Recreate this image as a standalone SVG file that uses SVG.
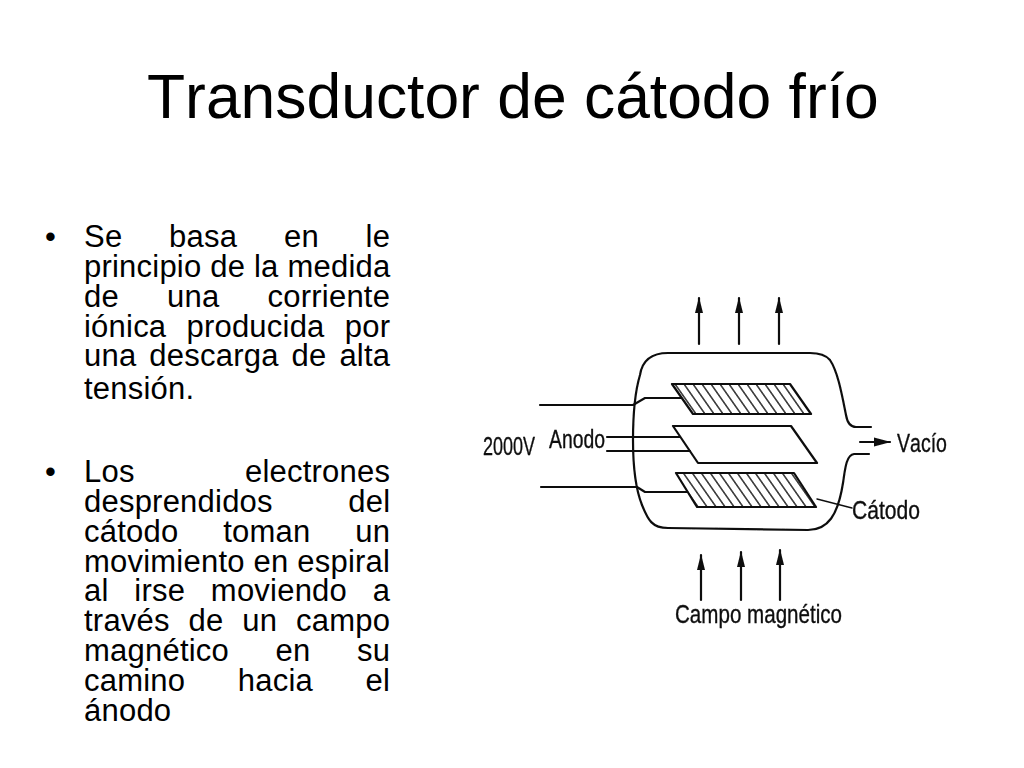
<svg xmlns="http://www.w3.org/2000/svg" width="1024" height="768" viewBox="0 0 1024 768">
<style>
text{font-family:"Liberation Sans",Arial,sans-serif;fill:#000;font-kerning:none}
.b{font-size:31px;letter-spacing:.22px}
.l{font-size:25px;fill:#111;stroke:#111;stroke-width:.35}
.w{fill:none;stroke:#111;stroke-width:2.2;stroke-linecap:round;stroke-linejoin:round}
.t{stroke-width:1.4}
.plate{stroke:#111;stroke-width:2.2;stroke-linejoin:round}
</style>
<defs>
<pattern id="h" width="9" height="30" patternUnits="userSpaceOnUse" patternTransform="translate(672 384) skewX(35)">
<rect width="9" height="30" fill="#fff"/><line x1="3" y1="-1" x2="3" y2="31" stroke="#111" stroke-width="1.6"/>
</pattern>
<marker id="a" markerUnits="userSpaceOnUse" markerWidth="17" markerHeight="9" refX="15" refY="4.5" orient="auto"><path d="M0 0.5L16 4.5L0 8.5Z" fill="#111"/></marker>
<marker id="ah" markerUnits="userSpaceOnUse" markerWidth="18" markerHeight="10" refX="16" refY="5" orient="auto"><path d="M0 0.5L17 5L0 9.5Z" fill="#111"/></marker>
<filter id="s" x="-5%" y="-5%" width="110%" height="110%"><feGaussianBlur stdDeviation="0.45"/></filter>
</defs>
<rect width="1024" height="768" fill="#fff"/>
<text id="title" x="147" y="118" font-size="62.4">Transductor de cátodo frío</text>
<g id="bullets">
<text class="b" x="45" y="247">•</text>
<text class="b" x="45" y="482">•</text>
<text class="b" x="84" y="247" word-spacing="37.9">Se basa en le</text>
<text class="b" x="84" y="277">principio de la medida</text>
<text class="b" x="84" y="307" word-spacing="39.3">de una corriente</text>
<text class="b" x="84" y="336.5" word-spacing="11.3">iónica producida por</text>
<text class="b" x="84" y="366" word-spacing="4.1">una descarga de alta</text>
<text class="b" x="84" y="399">tensión.</text>
<text class="b" x="84" y="482" word-spacing="101.5">Los electrones</text>
<text class="b" x="84" y="512" word-spacing="66.6">desprendidos del</text>
<text class="b" x="84" y="541.5" word-spacing="36">cátodo toman un</text>
<text class="b" x="84" y="571.5">movimiento en espiral</text>
<text class="b" x="84" y="601" word-spacing="16.9">al irse moviendo a</text>
<text class="b" x="84" y="631" word-spacing="10">través de un campo</text>
<text class="b" x="84" y="661" word-spacing="37.7">magnético en su</text>
<text class="b" x="84" y="690.5" word-spacing="43.7">camino hacia el</text>
<text class="b" x="84" y="720.5">ánodo</text>
</g>
<g filter="url(#s)">
<g id="chamber"><path class="w" d="M871 427H856Q848 427 846 415C842 395 838 372 830 360Q824 353 810 353H668C650 353 642 362 640 375C634 395 633 420 633 440C633 465 636 490 642 505C648 520 652 528 668 528L808 530C828 530 838 515 843 483C845 470 846 455 854 454H869"/></g>
<g id="plate-top"><path class="plate" fill="url(#h)" d="M672 384H790L811 414H693Z"/></g>
<g id="plate-mid"><path class="plate" fill="#fff" d="M673 426H791L817 463H698Z"/></g>
<g id="plate-bottom"><path class="plate" fill="url(#h)" d="M676 473H794L816 507H697Z"/></g>
<g id="connectors">
<path class="w" d="M540 405H633L645 398H681"/>
<path class="w" d="M607 437H680"/>
<path class="w" d="M607 451H690"/>
<path class="w" d="M541 487H637L645 492H687"/>
<path class="w t" d="M817 499L852 508"/>
<path class="w" marker-end="url(#a)" d="M699 344V298"/>
<path class="w" marker-end="url(#a)" d="M739 344V298"/>
<path class="w" marker-end="url(#a)" d="M779 344V298"/>
<path class="w" marker-end="url(#a)" d="M701 600V555"/>
<path class="w" marker-end="url(#a)" d="M741 600V552"/>
<path class="w" marker-end="url(#a)" d="M780 600V550"/>
<path class="w" marker-end="url(#ah)" d="M860 442H890"/>
</g>
<g id="labels">
<text class="l" x="483" y="455" textLength="52" lengthAdjust="spacingAndGlyphs">2000V</text>
<text class="l" x="549" y="448" textLength="56" lengthAdjust="spacingAndGlyphs">Anodo</text>
<text class="l" x="897" y="452" textLength="50" lengthAdjust="spacingAndGlyphs">Vacío</text>
<text class="l" x="852" y="519" textLength="68" lengthAdjust="spacingAndGlyphs">Cátodo</text>
<text class="l" x="675" y="623" textLength="167" lengthAdjust="spacingAndGlyphs">Campo magnético</text>
</g>
</g>
</svg>
